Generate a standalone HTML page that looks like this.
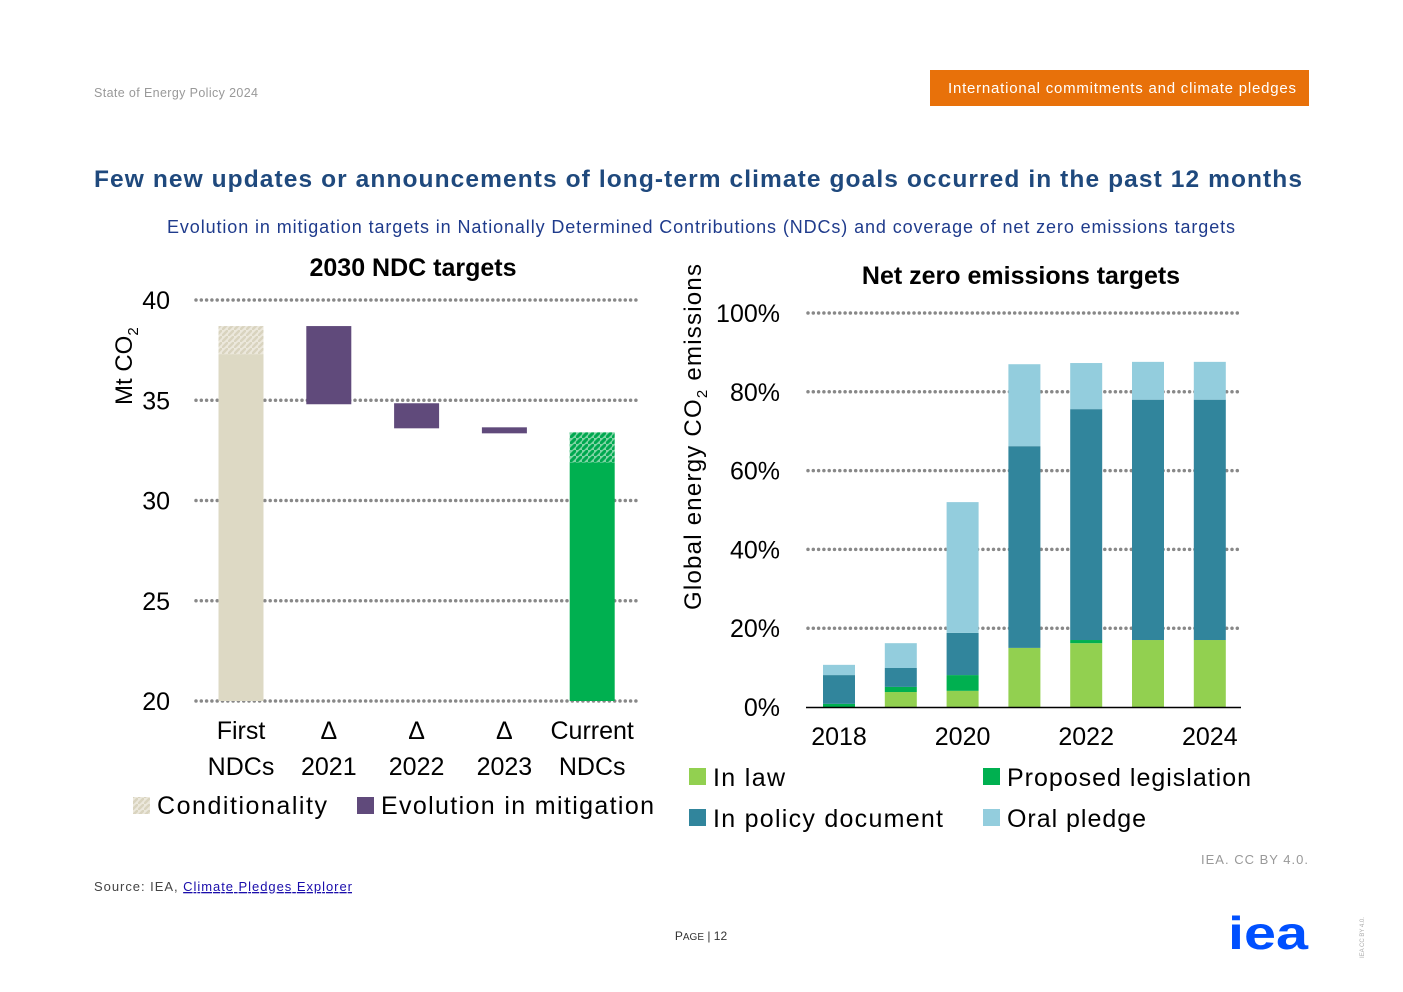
<!DOCTYPE html>
<html><head><meta charset="utf-8">
<style>
body{margin:0;background:#fff;width:1403px;height:992px;overflow:hidden;font-family:"Liberation Sans",sans-serif}
svg{display:block}
</style></head>
<body>
<svg id="page" width="1403" height="992" viewBox="0 0 1403 992" xmlns="http://www.w3.org/2000/svg">
<defs>
<pattern id="hatchBeige" width="6" height="6" patternUnits="userSpaceOnUse">
<rect width="6" height="6" fill="#ece8dc"/><path d="M0 6L6 0" stroke="#d9d4bf" stroke-width="2.5"/></pattern>
<pattern id="hatchGreen" width="6" height="6" patternUnits="userSpaceOnUse">
<rect width="6" height="6" fill="#7fd4a4"/><path d="M0 6L6 0" stroke="#00a84f" stroke-width="3"/></pattern>
</defs>
<text x="94" y="97" font-size="12.5" fill="#999" textLength="164">State of Energy Policy 2024</text>
<rect x="930" y="70" width="379" height="36" fill="#e8710a"/>
<text x="948" y="93" font-size="15" fill="#fff" textLength="348">International commitments and climate pledges</text>
<text x="94" y="187" font-size="24.5" font-weight="bold" fill="#1f497d" textLength="1208">Few new updates or announcements of long-term climate goals occurred in the past 12 months</text>
<text x="701" y="233" font-size="18" fill="#1f3b8c" text-anchor="middle" textLength="1068">Evolution in mitigation targets in Nationally Determined Contributions (NDCs) and coverage of net zero emissions targets</text>
<g id="left"></g>
<g id="right"></g>
<text x="1201" y="864" font-size="13" fill="#999" textLength="107">IEA. CC BY 4.0.</text>
<text x="94" y="891" font-size="13" fill="#444" textLength="258">Source: IEA, <tspan fill="#1a0dab" text-decoration="underline">Climate Pledges Explorer</tspan></text>
<text x="701" y="940" font-size="12" fill="#333" text-anchor="middle">P<tspan font-size="10">AGE</tspan> | 12</text>
<text x="1228" y="949" font-size="46" font-weight="bold" fill="#0050ff" textLength="80" lengthAdjust="spacingAndGlyphs">iea</text>
<text transform="translate(1364,958) rotate(-90)" font-size="6" fill="#aaa">IEA CC BY 4.0.</text>
</svg>
<script>
const NS="http://www.w3.org/2000/svg";
function mk(parent,tag,attrs,txt){const e=document.createElementNS(NS,tag);for(const k in attrs)e.setAttribute(k,attrs[k]);if(txt!=null)e.textContent=txt;parent.appendChild(e);return e;}

/* ---------- Left chart data ---------- */
const ndcCategories=[["First","NDCs"],["Δ","2021"],["Δ","2022"],["Δ","2023"],["Current","NDCs"]];
const ndcBase=[20,34.8,33.6,33.35,20];
const ndcSolidTop=[37.3,38.7,34.85,33.65,31.9];
const ndcHatchTop=[38.7,38.7,34.85,33.65,33.4];
const ndcTicks=[20,25,30,35,40];

const L=document.getElementById('left');
const ly=v=>701-(v-20)*20.05;
const lx=i=>241+i*87.8;
mk(L,'text',{x:413,y:276,'font-size':25,'font-weight':'bold','text-anchor':'middle',fill:'#000',},'2030 NDC targets');
ndcTicks.forEach(t=>{
  const g=mk(L,'line',{x1:196,x2:638,y1:ly(t),y2:ly(t),stroke:'#888','stroke-width':3.5,'stroke-dasharray':'0 5.3','stroke-linecap':'round'});
  
  
  const tx=mk(L,'text',{x:170,y:ly(t)+9,'font-size':25,'text-anchor':'end',fill:'#000'},String(t));
  
  
});
const yt=mk(L,'text',{transform:'translate(132,405) rotate(-90)','font-size':24,fill:'#000'});


yt.innerHTML='Mt CO<tspan font-size="15" dy="6">2</tspan>';
ndcCategories.forEach((c,i)=>{
  const x=lx(i)-22.5;
  const solidFill=i==0?'#ddd9c4':(i==4?'#00b050':'#604a7b');
  const r=mk(L,'rect',{x:x,y:ly(ndcSolidTop[i]),width:45,height:ly(ndcBase[i])-ly(ndcSolidTop[i]),fill:solidFill});
  
  
  if(ndcHatchTop[i]>ndcSolidTop[i]){
    const h=mk(L,'rect',{x:x,y:ly(ndcHatchTop[i]),width:45,height:ly(ndcSolidTop[i])-ly(ndcHatchTop[i]),fill:i==0?'url(#hatchBeige)':'url(#hatchGreen)'});
    
    
  }
  c.forEach((s,j)=>{
    const t=mk(L,'text',{x:lx(i),y:739+j*36,'font-size':25,'text-anchor':'middle',fill:'#000'},s);
    
    
  });
});
const lg1=mk(L,'rect',{x:133,y:797,width:17,height:17,fill:'url(#hatchBeige)'});


const lt1=mk(L,'text',{x:157,y:814,'font-size':25,fill:'#000',textLength:170},'Conditionality');


const lg2=mk(L,'rect',{x:357,y:797,width:17,height:17,fill:'#604a7b'});


const lt2=mk(L,'text',{x:381,y:814,'font-size':25,fill:'#000',textLength:273},'Evolution in mitigation');



/* ---------- Right chart data ---------- */
const nzYears=["2018","2019","2020","2021","2022","2023","2024"];
const nzLaw=[0,3.8,4.1,15,16.2,17,17];
const nzProposed=[0.8,1.3,4,0,0.8,0,0];
const nzPolicy=[7.3,4.8,10.7,51.2,58.6,61,61];
const nzOral=[2.6,6.3,33.2,20.8,11.7,9.6,9.6];
const nzTicks=[0,20,40,60,80,100];

const R=document.getElementById('right');
const ry=v=>707-v*3.94;
const rx=i=>839+i*61.8;
mk(R,'text',{x:1021,y:284,'font-size':25,'font-weight':'bold','text-anchor':'middle',fill:'#000',},'Net zero emissions targets');
nzTicks.forEach(t=>{
  if(t>0){
    const g=mk(R,'line',{x1:808,x2:1240,y1:ry(t),y2:ry(t),stroke:'#888','stroke-width':3.5,'stroke-dasharray':'0 5.3','stroke-linecap':'round'});
    
    
  }
  const tx=mk(R,'text',{x:780,y:ry(t)+9,'font-size':25,'text-anchor':'end',fill:'#000'},t+'%');
  
  
});
const ryt=mk(R,'text',{transform:'translate(701,610) rotate(-90)','font-size':24,fill:'#000',textLength:346});


ryt.innerHTML='Global energy CO<tspan font-size="15" dy="6">2</tspan><tspan dy="-6"> emissions</tspan>';
const series=[[nzLaw,'#92d050','law'],[nzProposed,'#00b050','proposed'],[nzPolicy,'#31859c','policy'],[nzOral,'#93cddd','oral']];
nzYears.forEach((yr,i)=>{
  let cum=0;
  series.forEach(([arr,col,nm])=>{
    const v=arr[i];
    if(v>0){
      const r=mk(R,'rect',{x:rx(i)-16,y:ry(cum+v),width:32,height:ry(cum)-ry(cum+v),fill:col});
      
      
    }
    cum+=v;
  });
  if(i%2==0){
    const t=mk(R,'text',{x:rx(i),y:745,'font-size':25,'text-anchor':'middle',fill:'#000'},yr);
    
    
  }
});
const ax=mk(R,'line',{x1:806,x2:1241,y1:707.5,y2:707.5,stroke:'#000','stroke-width':1.5});


const legendItems=[['In law','#92d050',689,768,72],['Proposed legislation','#00b050',983,768,244],['In policy document','#31859c',689,809,230],['Oral pledge','#93cddd',983,809,139]];
legendItems.forEach(([lab,col,x,y,w])=>{
  const s=mk(R,'rect',{x:x,y:y,width:17,height:17,fill:col});
  
  
  const t=mk(R,'text',{x:x+24,y:y+18,'font-size':25,fill:'#000',textLength:w},lab);
  
  
});
</script>
</body></html>
